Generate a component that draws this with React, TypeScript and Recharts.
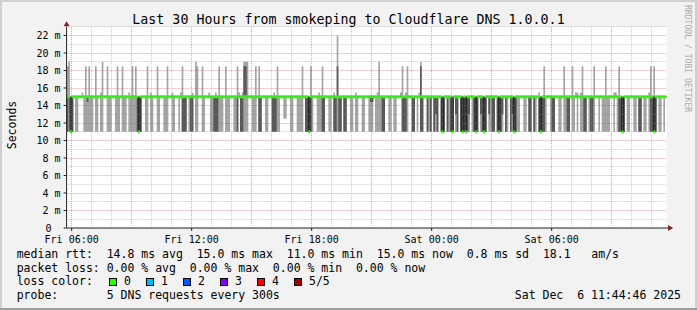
import { Area, CartesianGrid, ComposedChart, Line, ReferenceDot, ReferenceLine, XAxis, YAxis } from 'recharts';

// smoke shape of every 5-minute step; each letter is one of the ping sets below
const stepsFri0545 = ['kHmd.ll..s', 'lhfhll.hl.', 'LH..hll..l', 'hl.hll.Llh', 'lhdmd..lh.', 'Ll..hl..ll'];
const stepsFri1045 = ['h..Ll..lsk', 'dd.ldD.Hh.', '.hl..slldD', 'dhll.hll..', 'llksdDUUH.', '.llh.kd..l'];
const stepsFri1545 = ['l..dDdhl..', 'gg..ll..ll', 'lh.ddmkl..', 'lLlkd..ll.', 'DdTdd.dd..', 'll.Ll..ll.'];
const stepsFri2045 = ['.lff.lLHld', 'd..ll.ll..', 'skdDh..dd.', 'lsKd..dld.', 'ded.lmd.dl', 'dm.ed.dmdm'];
const stepsSat0145 = ['de.ldmd.ed', 'md.eldd.dm', 'de.dl.demd', 'll..ll.dd.', 'dl.Dmdkl..', 'ldd..ll.hl'];
const stepsSat0645 = ['dd.hlsL.Lh', 'dd.lddh..l', '.llhll..Ls', 'lkdmd.ll..', 'll.dd.ll.L', 'kdMd.ll.l.'];

// five sorted DNS round trip times (ms) for each kind of step
const pingSets: Record<string, number[]> = {
  '.': [15, 15, 15, 15, 15],
  s: [15, 15, 15, 15, 15.5],
  l: [11, 15, 15, 15, 15],
  L: [11, 15, 15, 15, 15.5],
  h: [11, 15, 15, 15, 18.5],
  H: [11, 15, 15, 15, 19],
  g: [12.5, 15, 15, 15, 15],
  f: [11, 14.4, 15, 15, 15],
  e: [11, 13, 15, 15, 15],
  d: [11, 11, 15, 15, 15],
  D: [11, 11, 15, 15, 15.5],
  k: [11, 11, 15, 15, 18.5],
  K: [11, 11, 15, 18.5, 19],
  U: [11, 15, 15, 18.5, 19],
  T: [11, 15, 15, 18.5, 22],
  m: [11, 11, 11, 15, 15],
  M: [11, 11, 11, 15, 18.5],
};

const firstStep = 345; // Fri 05:45 in minutes after Fri 00:00
const stepMinutes = 5;
const viewStart = 344.77; // Fri 05:44:46
const viewEnd = 2144.77; // Sat 11:44:46

const yTicks = [0, 2, 4, 6, 8, 10, 12, 14, 16, 18, 20, 22];
const xTicks = [360, 720, 1080, 1440, 1800];
const xTickLabels = ['Fri 06:00', 'Fri 12:00', 'Fri 18:00', 'Sat 00:00', 'Sat 06:00'];

const medianStats = ['14.8 ms avg', '15.0 ms max', '11.0 ms min', '15.0 ms now', '0.8 ms sd', '18.1   am/s'];
const lossStats = ['0.00 % avg', '0.00 % max', '0.00 % min', '0.00 % now'];
const lossLabels = ['0', '1', '2', '3', '4', '5/5'];
const lossColors = ['#26ff00', '#00b8ff', '#0059ff', '#7e00ff', '#ff0000', '#a10000'];

const mono = '"DejaVu Sans Mono", monospace';
const bandHalf = 0.17; // half height of the loss-coloured median band, in ms

const codes = [stepsFri0545, stepsFri1045, stepsFri1545, stepsFri2045, stepsSat0145, stepsSat0645]
  .map((b) => b.join(''))
  .join('');

const rows = codes.split('').map((c, i) => {
  const p = pingSets[c];
  return {
    t: firstStep + i * stepMinutes,
    outer: [p[0], p[4]],
    inner: [p[1], p[3]],
    median: p[2],
    band: [p[2] - bandHalf, p[2] + bandHalf],
  };
});
const data = [...rows, { ...rows[rows.length - 1], t: firstStep + rows.length * stepMinutes }];

const minorY = [1, 3, 5, 7, 9, 11, 13, 15, 17, 19, 21, 23];
const majorY = yTicks.slice(1);
const hours: number[] = [];
for (let m = 360; m < viewEnd; m += 60) hours.push(m);
const majorX = hours.filter((m) => m % 180 === 0);
const minorX = hours.filter((m) => m % 180 !== 0);

function CrispLine(props: any) {
  const { x1, y1, x2, y2, stroke, strokeDasharray, strokeOpacity } = props;
  const horiz = Math.abs(y1 - y2) < 0.01;
  const sy = Math.floor(y1) + 0.5;
  const sx = Math.floor(x1) + 0.5;
  return horiz ? (
    <line x1={x1} x2={x2} y1={sy} y2={sy} stroke={stroke} strokeDasharray={strokeDasharray} strokeOpacity={strokeOpacity} />
  ) : (
    <line x1={sx} x2={sx} y1={y1} y2={y2} stroke={stroke} strokeDasharray={strokeDasharray} strokeOpacity={strokeOpacity} />
  );
}

function YTick(props: any) {
  const { x, y, payload } = props;
  const v = payload.value;
  return (
    <text x={v === 0 ? x - 9 : x} y={y} dy="0.36em" textAnchor="end" fontFamily={mono} fontSize={10} fill="#000">
      {v === 0 ? '0' : `${v} m`}
    </text>
  );
}

function RightArrow(props: any) {
  const { cx, cy } = props;
  return (
    <g>
      <line x1={cx} x2={cx + 2} y1={cy} y2={cy} stroke="#1f1f1f" />
      <path d={`M${cx + 1.5} ${cy - 3} L${cx + 6.5} ${cy} L${cx + 1.5} ${cy + 3} Z`} fill="#801f1f" />
    </g>
  );
}

function UpArrow(props: any) {
  const { cx, cy } = props;
  return <path d={`M${cx - 3} ${cy - 0.5} L${cx} ${cy - 5.5} L${cx + 3} ${cy - 0.5} Z`} fill="#801f1f" />;
}

export default function App() {
  const textStyle = { whiteSpace: 'pre' as const };
  return (
    <div style={{ position: 'absolute', left: 0, top: 0, width: 697, height: 310, background: '#f2f2f2' }}>
      <ComposedChart width={697} height={310} data={data} margin={{ top: 26.75, right: 30.4, bottom: 0, left: 0 }}>
        <CartesianGrid fill="#ffffff" horizontal={false} vertical={false} />
        <XAxis
          type="number"
          dataKey="t"
          domain={[viewStart, viewEnd]}
          allowDataOverflow
          ticks={xTicks}
          interval={0}
          tickFormatter={(v: number) => xTickLabels[xTicks.indexOf(v)]}
          height={82}
          tickSize={3}
          tickMargin={5}
          tick={{ fill: '#000', fontSize: 10, fontFamily: mono }}
          axisLine={{ stroke: '#1f1f1f' }}
          tickLine={{ stroke: '#1f1f1f' }}
        />
        <YAxis
          type="number"
          domain={[0, 23]}
          allowDataOverflow
          ticks={yTicks}
          interval={0}
          width={66.6}
          tickSize={3}
          tickMargin={3}
          tick={<YTick />}
          axisLine={{ stroke: '#1f1f1f' }}
          tickLine={{ stroke: '#1f1f1f' }}
        />
        <Area dataKey="outer" type="stepAfter" fill="#a4a4a4" fillOpacity={1} stroke="none" isAnimationActive={false} />
        <Area dataKey="inner" type="stepAfter" fill="#585858" fillOpacity={1} stroke="none" isAnimationActive={false} />
        <Line dataKey="median" type="stepAfter" stroke="#202020" strokeWidth={1} dot={false} isAnimationActive={false} zIndex={350} />
        <Area dataKey="band" type="stepAfter" fill="#26ff00" fillOpacity={1} stroke="none" isAnimationActive={false} zIndex={450} />
        {minorY.map((v) => (
          <ReferenceLine key={`my${v}`} y={v} stroke="#8f8f8f" strokeOpacity={0.45} strokeDasharray="1 1" shape={CrispLine} zIndex={500} />
        ))}
        {majorY.map((v) => (
          <ReferenceLine key={`My${v}`} y={v} stroke="#de4f4f" strokeOpacity={0.55} strokeDasharray="1 1" shape={CrispLine} zIndex={500} />
        ))}
        {minorX.map((v) => (
          <ReferenceLine key={`mx${v}`} x={v} stroke="#8f8f8f" strokeOpacity={0.45} strokeDasharray="1 1" shape={CrispLine} zIndex={500} />
        ))}
        {majorX.map((v) => (
          <ReferenceLine key={`Mx${v}`} x={v} stroke="#de4f4f" strokeOpacity={0.55} strokeDasharray="1 1" shape={CrispLine} zIndex={500} />
        ))}
        <ReferenceDot x={viewEnd} y={0} ifOverflow="visible" shape={RightArrow} zIndex={600} />
        <ReferenceDot x={viewStart} y={23} ifOverflow="visible" shape={UpArrow} zIndex={600} />
      </ComposedChart>
      <svg width={697} height={310} style={{ position: 'absolute', left: 0, top: 0, pointerEvents: 'none' }}>
        <path d="M0 0 H697 V2 H2 V308 H0 Z" fill="#cfcfcf" />
        <path d="M697 0 V310 H0 V308 H695 V0 Z" fill="#cfcfcf" />
        <rect x={0} y={308} width={697} height={2} fill="#9e9e9e" />
        <text x={348.5} y={24} textAnchor="middle" fontFamily={mono} fontSize={13.3} fill="#000" style={textStyle}>
          Last 30 Hours from smokeping to Cloudflare DNS 1.0.0.1
        </text>
        <text transform="translate(15.5 125) rotate(-90)" textAnchor="middle" fontFamily={mono} fontSize={11.5} fill="#000">
          Seconds
        </text>
        <text transform="translate(685 5) rotate(90)" fontFamily={mono} fontSize={8.1} fill="#acacac" style={textStyle}>
          RRDTOOL / TOBI OETIKER
        </text>
        <g fontFamily={mono} fontSize={11.5} fill="#000">
          <text x={16.7} y={258} style={textStyle}>
            {'median rtt:  ' + medianStats.join('  ')}
          </text>
          <text x={16.7} y={271.5} style={textStyle}>
            {'packet loss: ' + lossStats.join('  ')}
          </text>
          <text x={16.7} y={285} style={textStyle}>
            loss color:
          </text>
          {lossLabels.map((lab, i) => (
            <g key={lab}>
              <rect x={109.5 + 37 * i} y={278.5} width={7} height={7} fill={lossColors[i]} stroke="#000" strokeWidth={1} />
              <text x={124 + 37 * i} y={285}>
                {lab}
              </text>
            </g>
          ))}
          <text x={16.7} y={298.5} style={textStyle}>
            {'probe:       5 DNS requests every 300s'}
          </text>
          <text x={681} y={298.5} textAnchor="end" style={textStyle}>
            Sat Dec  6 11:44:46 2025
          </text>
        </g>
      </svg>
    </div>
  );
}
